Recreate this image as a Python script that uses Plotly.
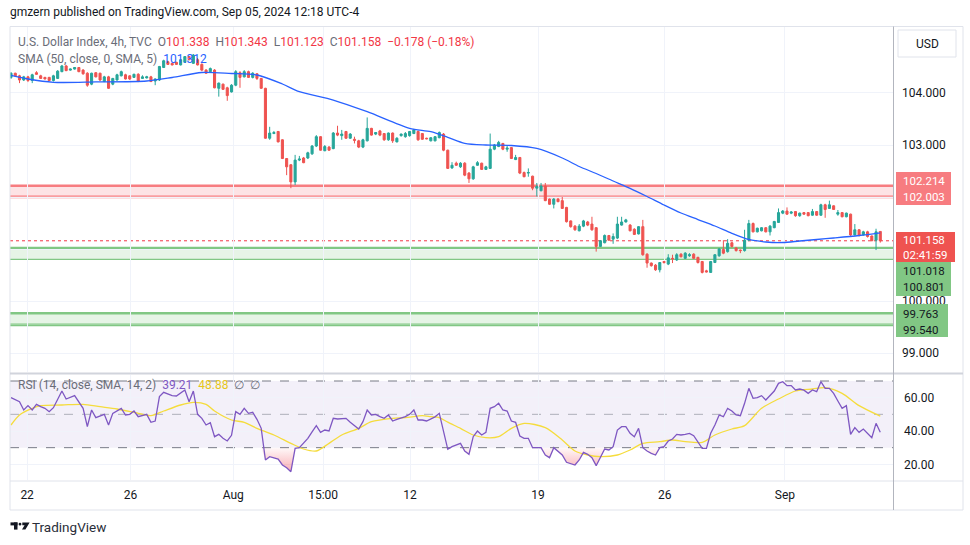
import plotly.graph_objects as go

W, H = 970, 545

# ---------------- data ----------------
bar_index = list(range(206))

opens = [
    104.30, 104.38, 104.33, 104.25, 104.31, 104.24, 104.39, 104.33, 104.30, 104.30,
    104.24, 104.28, 104.41, 104.52, 104.44, 104.46, 104.49, 104.44, 104.38, 104.17,
    104.39, 104.38, 104.22, 104.31, 104.17, 104.25, 104.33, 104.35, 104.33, 104.30,
    104.36, 104.28, 104.29, 104.31, 104.23, 104.25, 104.49, 104.60, 104.57, 104.59,
    104.54, 104.59, 104.70, 104.57, 104.64, 104.55, 104.44, 104.41, 104.44, 104.09,
    104.17, 104.10, 104.02, 104.15, 104.39, 104.31, 104.41, 104.30, 104.37, 104.28,
    104.09, 103.13, 103.22, 103.26, 103.10, 102.74, 102.62, 102.29, 102.71, 102.75,
    102.75, 102.83, 102.98, 103.16, 102.89, 102.96, 102.93, 103.23, 103.18, 103.26,
    103.13, 103.11, 103.08, 102.96, 103.08, 103.32, 103.21, 103.27, 103.22, 103.10,
    103.23, 103.06, 103.18, 103.16, 103.18, 103.22, 103.26, 103.22, 103.13, 103.08,
    103.08, 103.14, 103.21, 102.90, 102.56, 102.65, 102.58, 102.65, 102.46, 102.35,
    102.61, 102.65, 102.53, 102.55, 102.92, 102.97, 103.03, 102.92, 102.95, 102.72,
    102.76, 102.47, 102.46, 102.40, 102.17, 102.12, 102.21, 101.96, 101.86, 101.96,
    101.93, 101.80, 101.54, 101.44, 101.35, 101.44, 101.52, 101.48, 101.41, 101.05,
    101.12, 101.26, 101.19, 101.21, 101.46, 101.52, 101.46, 101.38, 101.29, 101.43,
    100.90, 100.73, 100.69, 100.60, 100.76, 100.71, 100.82, 100.79, 100.90, 100.82,
    100.87, 100.90, 100.84, 100.76, 100.58, 100.55, 100.74, 100.87, 100.99, 100.95,
    101.12, 101.02, 100.98, 100.97, 101.17, 101.49, 101.33, 101.35, 101.41, 101.33,
    101.41, 101.51, 101.69, 101.73, 101.69, 101.72, 101.64, 101.70, 101.70, 101.65,
    101.72, 101.65, 101.85, 101.78, 101.83, 101.67, 101.70, 101.62, 101.67, 101.27,
    101.37, 101.27, 101.33, 101.25, 101.17, 101.338,
]
highs = [
    104.40, 104.39, 104.35, 104.33, 104.33, 104.37, 104.42, 104.35, 104.31, 104.31,
    104.35, 104.44, 104.54, 104.54, 104.47, 104.50, 104.50, 104.46, 104.40, 104.39,
    104.40, 104.39, 104.33, 104.33, 104.29, 104.37, 104.43, 104.37, 104.34, 104.37,
    104.38, 104.34, 104.33, 104.33, 104.28, 104.52, 104.64, 104.62, 104.58, 104.60,
    104.65, 104.71, 104.71, 104.75, 104.67, 104.57, 104.46, 104.49, 104.46, 104.20,
    104.18, 104.12, 104.17, 104.44, 104.42, 104.44, 104.43, 104.40, 104.38, 104.29,
    104.10, 103.35, 103.27, 103.27, 103.11, 102.75, 102.63, 102.81, 102.79, 102.77,
    102.87, 103.00, 103.19, 103.17, 103.00, 102.98, 103.25, 103.37, 103.29, 103.27,
    103.23, 103.16, 103.10, 103.12, 103.53, 103.33, 103.25, 103.29, 103.23, 103.24,
    103.24, 103.15, 103.22, 103.25, 103.27, 103.31, 103.28, 103.23, 103.14, 103.15,
    103.17, 103.26, 103.23, 102.91, 102.67, 102.68, 102.67, 102.67, 102.48, 102.60,
    102.69, 102.66, 102.60, 103.22, 103.02, 103.08, 103.04, 103.00, 102.96, 102.81,
    102.77, 102.49, 102.55, 102.41, 102.27, 102.27, 102.27, 101.97, 101.98, 101.98,
    102.00, 101.81, 101.55, 101.46, 101.48, 101.56, 101.54, 101.62, 101.42, 101.17,
    101.28, 101.27, 101.30, 101.62, 101.62, 101.58, 101.48, 101.40, 101.44, 101.56,
    100.92, 100.74, 100.71, 100.75, 100.77, 100.90, 100.89, 100.92, 100.92, 100.94,
    100.92, 100.92, 100.85, 100.77, 100.60, 100.77, 100.90, 101.02, 101.17, 101.19,
    101.14, 101.04, 100.99, 101.37, 101.56, 101.51, 101.41, 101.42, 101.42, 101.46,
    101.54, 101.78, 101.75, 101.80, 101.73, 101.73, 101.70, 101.71, 101.71, 101.77,
    101.73, 101.87, 101.87, 101.93, 101.84, 101.75, 101.71, 101.70, 101.68, 101.48,
    101.38, 101.35, 101.35, 101.26, 101.39, 101.343,
]
lows = [
    104.27, 104.31, 104.19, 104.23, 104.21, 104.19, 104.35, 104.27, 104.26, 104.23,
    104.22, 104.27, 104.40, 104.42, 104.43, 104.45, 104.40, 104.35, 104.12, 104.15,
    104.30, 104.23, 104.21, 104.08, 104.15, 104.24, 104.32, 104.26, 104.25, 104.29,
    104.21, 104.27, 104.28, 104.21, 104.15, 104.23, 104.48, 104.54, 104.53, 104.54,
    104.53, 104.58, 104.63, 104.56, 104.53, 104.42, 104.37, 104.40, 104.09, 103.93,
    104.06, 103.85, 104.01, 104.13, 104.10, 104.30, 104.29, 104.28, 104.25, 104.08,
    103.12, 103.10, 103.21, 103.05, 102.73, 102.42, 102.17, 102.23, 102.69, 102.65,
    102.73, 102.81, 102.96, 102.89, 102.88, 102.89, 102.92, 103.17, 103.10, 103.12,
    103.12, 103.03, 102.94, 102.94, 103.07, 103.18, 103.19, 103.17, 103.08, 103.08,
    103.04, 103.05, 103.16, 103.14, 103.16, 103.21, 103.08, 103.10, 103.11, 103.07,
    103.07, 103.13, 102.88, 102.54, 102.54, 102.60, 102.56, 102.40, 102.27, 102.33,
    102.60, 102.52, 102.52, 102.54, 102.90, 102.96, 102.90, 102.87, 102.73, 102.71,
    102.44, 102.38, 102.39, 102.13, 102.01, 102.11, 101.92, 101.85, 101.78, 101.90,
    101.77, 101.51, 101.41, 101.35, 101.34, 101.42, 101.44, 101.35, 100.95, 101.04,
    101.11, 101.16, 101.10, 101.19, 101.45, 101.51, 101.34, 101.27, 101.28, 100.87,
    100.64, 100.66, 100.58, 100.55, 100.72, 100.69, 100.73, 100.77, 100.84, 100.81,
    100.85, 100.81, 100.72, 100.53, 100.55, 100.54, 100.73, 100.85, 100.90, 100.93,
    101.03, 100.95, 100.92, 100.95, 101.15, 101.32, 101.32, 101.34, 101.32, 101.26,
    101.40, 101.50, 101.67, 101.66, 101.67, 101.62, 101.62, 101.66, 101.63, 101.64,
    101.64, 101.64, 101.60, 101.77, 101.75, 101.64, 101.61, 101.61, 101.25, 101.26,
    101.24, 101.26, 101.22, 101.15, 100.98, 101.123,
]
closes = [
    104.38, 104.33, 104.25, 104.31, 104.24, 104.35, 104.36, 104.28, 104.27, 104.24,
    104.33, 104.42, 104.52, 104.43, 104.46, 104.49, 104.41, 104.37, 104.15, 104.38,
    104.31, 104.25, 104.31, 104.09, 104.28, 104.35, 104.41, 104.27, 104.27, 104.36,
    104.22, 104.31, 104.31, 104.22, 104.27, 104.51, 104.62, 104.55, 104.54, 104.55,
    104.64, 104.70, 104.64, 104.73, 104.54, 104.44, 104.38, 104.47, 104.10, 104.19,
    104.07, 103.95, 104.15, 104.41, 104.30, 104.41, 104.30, 104.38, 104.28, 104.09,
    103.13, 103.23, 103.24, 103.06, 102.74, 102.58, 102.29, 102.71, 102.73, 102.66,
    102.85, 102.98, 103.16, 102.90, 102.97, 102.90, 103.23, 103.19, 103.21, 103.13,
    103.21, 103.09, 102.96, 103.10, 103.32, 103.19, 103.24, 103.19, 103.10, 103.23,
    103.08, 103.13, 103.21, 103.22, 103.26, 103.29, 103.10, 103.11, 103.12, 103.14,
    103.16, 103.24, 102.90, 102.55, 102.61, 102.61, 102.65, 102.42, 102.35, 102.58,
    102.66, 102.53, 102.58, 102.92, 103.00, 103.05, 102.92, 102.94, 102.74, 102.76,
    102.46, 102.39, 102.47, 102.17, 102.20, 102.21, 101.93, 101.86, 101.96, 101.91,
    101.78, 101.525, 101.43, 101.37, 101.44, 101.54, 101.46, 101.37, 101.05, 101.16,
    101.26, 101.17, 101.24, 101.48, 101.52, 101.56, 101.35, 101.28, 101.43, 100.89,
    100.73, 100.68, 100.60, 100.74, 100.74, 100.83, 100.81, 100.89, 100.85, 100.92,
    100.89, 100.82, 100.74, 100.55, 100.56, 100.76, 100.89, 101.00, 100.92, 101.11,
    101.05, 100.97, 100.97, 101.17, 101.49, 101.33, 101.40, 101.41, 101.33, 101.44,
    101.53, 101.70, 101.73, 101.67, 101.71, 101.64, 101.69, 101.67, 101.64, 101.72,
    101.65, 101.85, 101.76, 101.85, 101.76, 101.70, 101.62, 101.69, 101.27, 101.37,
    101.26, 101.33, 101.24, 101.16, 101.33, 101.158,
]

sma_idx = [0, 4, 10, 20, 32, 38, 45, 52, 58, 64, 68, 76, 84, 94, 99, 103, 107, 112,
           118, 124, 130, 134, 138, 142, 146, 150, 154, 158, 162, 166, 170, 174, 178,
           182, 186, 190, 194, 200, 205]
sma_val = [104.337, 104.269, 104.206, 104.212, 104.231, 104.298, 104.394, 104.375,
           104.346, 104.173, 104.025, 103.865, 103.640, 103.321, 103.256, 103.148,
           103.033, 103.000, 102.990, 102.933, 102.750, 102.587, 102.452, 102.308,
           102.167, 102.010, 101.846, 101.692, 101.567, 101.442, 101.302, 101.183,
           101.135, 101.125, 101.154, 101.183, 101.212, 101.260, 101.312]

rsi_idx = [0, 2, 3, 4, 5, 6, 7, 8, 9, 10, 12, 13, 15, 17, 18, 19, 20, 22, 23, 24,
           26, 27, 28, 29, 30, 32, 33, 34, 35, 36, 38, 39, 41, 42, 43, 44, 45, 46, 47, 48,
           49, 50, 51, 52, 53, 54, 55, 56, 57, 58, 59, 60, 61, 62, 63, 64, 65, 66, 67, 68,
           70, 71, 72, 73, 74, 75, 76, 77, 79, 80, 82, 83, 84, 85, 86, 87, 88, 89, 90, 91,
           92, 93, 94, 95, 96, 97, 98, 99, 100, 101, 102, 103, 104, 105, 106, 107, 108, 109,
           110, 111, 112, 113, 114, 115, 116, 117, 118, 119, 120, 121, 122, 123, 124, 125,
           126, 127, 128, 129, 130, 131, 132, 133, 134, 135, 136, 137, 138, 139, 140, 141,
           142, 143, 144, 145, 146, 147, 148, 149, 150, 151, 152, 153, 154, 155, 156, 157,
           158, 159, 160, 161, 162, 163, 164, 165, 166, 167, 168, 169, 170, 171, 172, 173,
           174, 175, 176, 177, 178, 179, 180, 181, 182, 183, 184, 185, 186, 187, 188, 189,
           190, 191, 192, 193, 194, 195, 196, 197, 198, 199, 200, 201, 202, 203, 204, 205]
rsi_val = [60.0, 57.6, 52.6, 55.2, 52.6, 56.0, 54.6, 53.6, 51.6, 54.0, 64.0, 59.2, 61.2,
           53.6, 42.6, 52.6, 48.0, 50.0, 43.6, 50.6, 53.6, 49.6, 50.0, 52.0, 48.6, 50.0,
           45.2, 46.0, 60.6, 63.2, 61.2, 61.0, 64.6, 57.6, 64.0, 50.0, 47.6, 43.6, 45.0,
           36.6, 38.0, 35.6, 34.0, 37.4, 51.6, 50.0, 53.6, 50.6, 51.2, 47.0, 41.6, 22.6,
           24.6, 24.0, 23.2, 19.6, 18.0, 15.6, 29.6, 30.0, 35.6, 39.5, 43.2, 39.2, 40.6,
           40.0, 47.6, 47.2, 47.6, 45.2, 41.2, 45.6, 52.6, 49.6, 50.0, 48.6, 47.6, 49.6,
           46.0, 47.0, 47.8, 48.6, 50.0, 52.6, 46.6, 46.6, 46.0, 47.5, 48.5, 50.6, 39.0,
           29.0, 30.6, 31.5, 32.6, 28.0, 26.0, 36.6, 40.0, 37.6, 39.2, 53.6, 54.6, 56.6,
           52.6, 52.0, 46.0, 45.2, 37.0, 35.6, 35.6, 30.0, 30.0, 30.0, 25.6, 24.0, 30.0,
           28.0, 25.6, 21.2, 20.6, 19.6, 22.6, 27.2, 26.0, 24.0, 19.2, 24.0, 29.2, 28.6,
           30.6, 40.6, 42.6, 42.6, 38.6, 36.6, 41.6, 30.0, 28.0, 26.6, 25.6, 30.0, 30.6,
           34.0, 35.2, 38.0, 37.6, 38.0, 38.6, 37.2, 33.6, 29.6, 29.6, 38.6, 43.6, 49.6,
           48.6, 53.6, 52.0, 49.6, 49.2, 56.6, 65.6, 59.6, 60.0, 61.2, 58.6, 61.0, 64.0,
           68.6, 69.6, 67.2, 67.2, 64.6, 65.2, 64.5, 62.6, 64.6, 63.6, 69.6, 65.6, 65.6,
           62.6, 58.0, 53.6, 55.2, 38.0, 42.0, 39.2, 41.2, 38.6, 36.0, 44.6, 39.21]

rsi_ma_idx = [0, 2, 5, 7, 12, 17, 21, 25, 30, 33, 36, 40, 43, 46, 48, 52, 55, 58, 62,
              66, 69, 72, 75, 78, 82, 85, 90, 93, 97, 99, 101, 103, 106, 109, 112, 115,
              118, 121, 126, 130, 133, 136, 139, 143, 146, 149, 153, 156, 159, 163, 166,
              170, 173, 177, 181, 185, 189, 192, 196, 200, 205]
rsi_ma_val = [43.6, 49.6, 53.6, 55.2, 55.6, 56.0, 54.6, 53.2, 50.6, 49.2, 52.0, 55.6,
              57.2, 56.0, 52.0, 46.6, 45.2, 41.6, 37.6, 32.6, 29.2, 28.0, 32.6, 37.6,
              41.6, 45.6, 47.6, 48.0, 49.2, 48.6, 48.0, 45.3, 41.6, 37.6, 36.0, 36.6,
              41.6, 44.6, 42.0, 34.6, 28.0, 25.6, 24.6, 25.6, 28.6, 32.6, 33.6, 34.6,
              33.6, 33.2, 37.6, 41.2, 43.2, 53.6, 59.2, 64.0, 65.2, 66.0, 62.6, 55.2, 48.88]

tick_pos = [3.8, 28.2, 52.4, 73.6, 94.1, 124.3, 154.2, 182.5]
tick_text = ["22", "26", "Aug", "15:00", "12", "19", "26", "Sep"]

price_ticks = [99, 100, 101, 102, 103, 104]
# 101 and 102 labels sit behind the coloured price tags in the reference
price_tick_text = ["99.000", "100.000", "", "", "103.000", "104.000"]
rsi_ticks = [20, 40, 60]

red_zone = [102.214, 102.003]
green_zone = [101.018, 100.801]
green_zone2 = [99.763, 99.540]

# ---------------- styling ----------------
UP, DOWN = "#26a69a", "#ef5350"
GRID = "#f0f3fa"
FONT = "Roboto"
TXT = "#131722"
GRAY = "#6a6d78"


def px(x):
    return x / W


def py(y):
    return 1 - y / H


fig = go.Figure()

fig.add_trace(go.Candlestick(
    x=bar_index, open=opens, high=highs, low=lows, close=closes,
    increasing=dict(line=dict(color=UP, width=1), fillcolor=UP),
    decreasing=dict(line=dict(color=DOWN, width=1), fillcolor=DOWN),
    whiskerwidth=0, xaxis="x", yaxis="y", hoverinfo="skip", showlegend=False))

fig.add_trace(go.Scatter(
    x=sma_idx, y=sma_val, mode="lines", xaxis="x", yaxis="y",
    line=dict(color="#2962ff", width=1.3, shape="spline", smoothing=0.8),
    hoverinfo="skip", showlegend=False))

# RSI oversold fill
rsi_base = [30] * len(rsi_idx)
rsi_clip = [min(v, 30) for v in rsi_val]
fig.add_trace(go.Scatter(x=rsi_idx, y=rsi_base, mode="lines", line=dict(width=0),
                         xaxis="x2", yaxis="y2", hoverinfo="skip", showlegend=False))
fig.add_trace(go.Scatter(
    x=rsi_idx, y=rsi_clip, mode="lines", line=dict(width=0), fill="tonexty",
    fillgradient=dict(type="vertical", start=14, stop=30,
                      colorscale=[[0, "rgba(242,54,69,0.45)"], [1, "rgba(242,54,69,0.03)"]]),
    xaxis="x2", yaxis="y2", hoverinfo="skip", showlegend=False))

fig.add_trace(go.Scatter(
    x=rsi_ma_idx, y=rsi_ma_val, mode="lines", xaxis="x2", yaxis="y2",
    line=dict(color="#f5dc3c", width=1.3, shape="spline", smoothing=0.8),
    hoverinfo="skip", showlegend=False))
fig.add_trace(go.Scatter(
    x=rsi_idx, y=rsi_val, mode="lines", xaxis="x2", yaxis="y2",
    line=dict(color="#7e57c2", width=1.3), hoverinfo="skip", showlegend=False))

shapes = []
X0, X1 = px(10), px(893)


def zone(top, bottom, col_line, col_fill, double):
    lo = bottom + 0.015 if double else bottom
    shapes.append(dict(type="rect", xref="paper", yref="y", x0=X0, x1=X1, y0=lo, y1=top,
                       fillcolor=col_fill, line=dict(width=0), layer="below"))
    shapes.append(dict(type="line", xref="paper", yref="y", x0=X0, x1=X1, y0=top, y1=top,
                       line=dict(color=col_line, width=2.5), layer="below"))
    shapes.append(dict(type="line", xref="paper", yref="y", x0=X0, x1=X1, y0=lo, y1=lo,
                       line=dict(color=col_line, width=1.3), layer="below"))
    if double:
        shapes.append(dict(type="line", xref="paper", yref="y", x0=X0, x1=X1,
                           y0=bottom - 0.015, y1=bottom - 0.015,
                           line=dict(color=col_line, width=1.3), layer="below"))


zone(red_zone[0], red_zone[1], "#f77c80", "rgba(242,54,69,0.14)", True)
zone(green_zone[0], green_zone[1], "#81c784", "rgba(76,175,80,0.14)", False)
zone(green_zone2[0], green_zone2[1], "#81c784", "rgba(76,175,80,0.14)", True)

# current price dotted line
shapes.append(dict(type="line", xref="paper", yref="y", x0=X0, x1=X1,
                   y0=closes[-1], y1=closes[-1],
                   line=dict(color="#f23645", width=1, dash="dot"), layer="below"))

# RSI band and levels
shapes.append(dict(type="rect", xref="paper", yref="y2", x0=X0, x1=X1, y0=30, y1=70,
                   fillcolor="rgba(126,87,194,0.09)", line=dict(width=0), layer="below"))
for lvl, col in [(70, "#787b86"), (50, "rgba(120,123,134,0.55)"), (30, "#787b86")]:
    shapes.append(dict(type="line", xref="paper", yref="y2", x0=X0, x1=X1, y0=lvl, y1=lvl,
                       line=dict(color=col, width=1, dash="dash"), layer="below"))

# frame
shapes.append(dict(type="rect", xref="paper", yref="paper", x0=px(10), x1=px(963),
                   y0=py(510), y1=py(26.5), line=dict(color="#e0e3eb", width=1)))
shapes.append(dict(type="line", xref="paper", yref="paper", x0=px(10), x1=px(963),
                   y0=py(373.5), y1=py(373.5), line=dict(color="#d1d4dc", width=2)))
shapes.append(dict(type="line", xref="paper", yref="paper", x0=px(10), x1=px(963),
                   y0=py(481), y1=py(481), line=dict(color="#e0e3eb", width=1)))
shapes.append(dict(type="line", xref="paper", yref="paper", x0=px(893.5), x1=px(893.5),
                   y0=py(510), y1=py(26.5), line=dict(color="#b2b5be", width=1)))
# USD box
shapes.append(dict(type="rect", xref="paper", yref="paper", x0=px(898), x1=px(956),
                   y0=py(57), y1=py(30), line=dict(color="#e0e3eb", width=1),
                   fillcolor="white"))

# right-axis price label boxes
boxes = [
    (896, 951, 172, 205, "#f77c80"),
    (896, 955, 232, 262, "#ef5350"),
    (896, 951, 262, 296, "#81c784"),
    (896, 948, 304, 337, "#81c784"),
]
for x0, x1, y0, y1, col in boxes:
    shapes.append(dict(type="rect", xref="paper", yref="paper", x0=px(x0), x1=px(x1),
                       y0=py(y1), y1=py(y0), fillcolor=col, line=dict(width=0),
                       layer="above"))


def P(x, y):
    return f"{x / W:.5f},{1 - y / H:.5f}"


LOGO = "#131722"
shapes.append(dict(type="rect", xref="paper", yref="paper", x0=px(10.5), x1=px(17.5),
                   y0=py(525.4), y1=py(522.4), fillcolor=LOGO, line=dict(width=0)))
shapes.append(dict(type="rect", xref="paper", yref="paper", x0=px(14), x1=px(17.5),
                   y0=py(529.6), y1=py(522.4), fillcolor=LOGO, line=dict(width=0)))
shapes.append(dict(type="circle", xref="paper", yref="paper", x0=px(18.6), x1=px(21.4),
                   y0=py(525.6), y1=py(522.8), fillcolor=LOGO, line=dict(width=0)))
shapes.append(dict(type="path", xref="paper", yref="paper",
                   path="M " + P(22.3, 522.4) + " L " + P(29.6, 522.4) + " L " + P(25.4, 529.6)
                   + " L " + P(22.0, 529.6) + " L " + P(24.6, 525.2) + " L " + P(22.3, 525.2) + " Z",
                   fillcolor=LOGO, line=dict(width=0)))

ann = []


def text(x, y, s, size=12, color=TXT, anchor="left"):
    ann.append(dict(x=px(x), y=py(y), xref="paper", yref="paper", text=s, showarrow=False,
                    xanchor=anchor, yanchor="middle", borderpad=0,
                    font=dict(family=FONT, size=size, color=color)))


text(9, 12, "gmzern published on TradingView.com, Sep 05, 2024 12:18 UTC-4", 12, TXT)

R = "#f23645"
line1 = (f'<span style="color:{GRAY}">U.S. Dollar Index, 4h, TVC&nbsp;&nbsp;O</span>'
         f'<span style="color:{R}">{opens[-1]:.3f}</span>'
         f'<span style="color:{GRAY}">&nbsp;&nbsp;H</span><span style="color:{R}">{highs[-1]:.3f}</span>'
         f'<span style="color:{GRAY}">&nbsp;&nbsp;L</span><span style="color:{R}">{lows[-1]:.3f}</span>'
         f'<span style="color:{GRAY}">&nbsp;&nbsp;C</span><span style="color:{R}">{closes[-1]:.3f}</span>'
         f'<span style="color:{R}">&nbsp;&nbsp;&#8722;0.178 (&#8722;0.18%)</span>')
text(17, 42, line1, 12)
line2 = (f'<span style="color:{GRAY}">SMA (50, close, 0, SMA, 5)&nbsp;&nbsp;</span>'
         f'<span style="color:#2962ff">{sma_val[-1]:.3f}</span>')
text(17, 59, line2, 12)
line3 = (f'<span style="color:{GRAY}">RSI (14, close, SMA, 14, 2)&nbsp;&nbsp;</span>'
         f'<span style="color:#7e57c2">{rsi_val[-1]:.2f}</span>&nbsp;&nbsp;'
         f'<span style="color:#e6c619">{rsi_ma_val[-1]:.2f}</span>&nbsp;&nbsp;'
         f'<span style="color:{GRAY}">&#8709;&nbsp;&nbsp;&#8709;</span>')
text(17, 385, line3, 12)

text(927, 44, "USD", 12, TXT, "center")
BOX_FS = 11.5
text(902, 181.5, f"{red_zone[0]:.3f}", BOX_FS, "white")
text(902, 197.5, f"{red_zone[1]:.3f}", BOX_FS, "white")
text(902, 240, f"{closes[-1]:.3f}", BOX_FS, "white")
text(902, 255, "02:41:59", BOX_FS, "white")
text(902, 270.5, f"{green_zone[0]:.3f}", BOX_FS, TXT)
text(902, 286.5, f"{green_zone[1]:.3f}", BOX_FS, TXT)
text(902, 313.5, f"{green_zone2[0]:.3f}", BOX_FS, TXT)
text(902, 329.5, f"{green_zone2[1]:.3f}", BOX_FS, TXT)

text(31, 527, "TradingView", 13.5, "#2a2e39")

xcommon = dict(domain=[px(10), px(893)], range=[-0.24, 208.0], tickvals=tick_pos,
               ticktext=tick_text, showgrid=True, gridcolor=GRID, zeroline=False,
               showline=False, ticks="", fixedrange=True)

fig.update_layout(
    width=W, height=H, autosize=False,
    margin=dict(l=0, r=0, t=0, b=0),
    paper_bgcolor="white", plot_bgcolor="white",
    hovermode=False, showlegend=False,
    font=dict(family=FONT, size=12, color=TXT),
    xaxis=dict(**xcommon, anchor="y", showticklabels=False,
               rangeslider=dict(visible=False)),
    xaxis2=dict(**xcommon, anchor="y2", matches="x", showticklabels=True,
                tickfont=dict(family=FONT, size=12, color=TXT), ticklabelstandoff=6),
    yaxis=dict(domain=[py(372), py(27)], range=[98.635, 105.269], side="right",
               anchor="x", tickvals=price_ticks, ticktext=price_tick_text,
               showgrid=True, gridcolor=GRID, zeroline=False, ticks="",
               tickfont=dict(family=FONT, size=12, color=TXT), ticklabelstandoff=8,
               fixedrange=True),
    yaxis2=dict(domain=[py(480), py(375)], range=[10.6, 73.6], side="right",
                anchor="x2", tickvals=rsi_ticks, ticktext=[f"{v:.2f}" for v in rsi_ticks],
                showgrid=True, gridcolor=GRID, zeroline=False, ticks="",
                tickfont=dict(family=FONT, size=12, color=TXT), ticklabelstandoff=10,
                fixedrange=True),
    shapes=shapes, annotations=ann,
)

fig.write_html("out.html", config={"displayModeBar": False},
               post_script="document.body.style.margin='0px';document.body.style.padding='0px';"
                           "document.body.style.overflow='hidden';")
